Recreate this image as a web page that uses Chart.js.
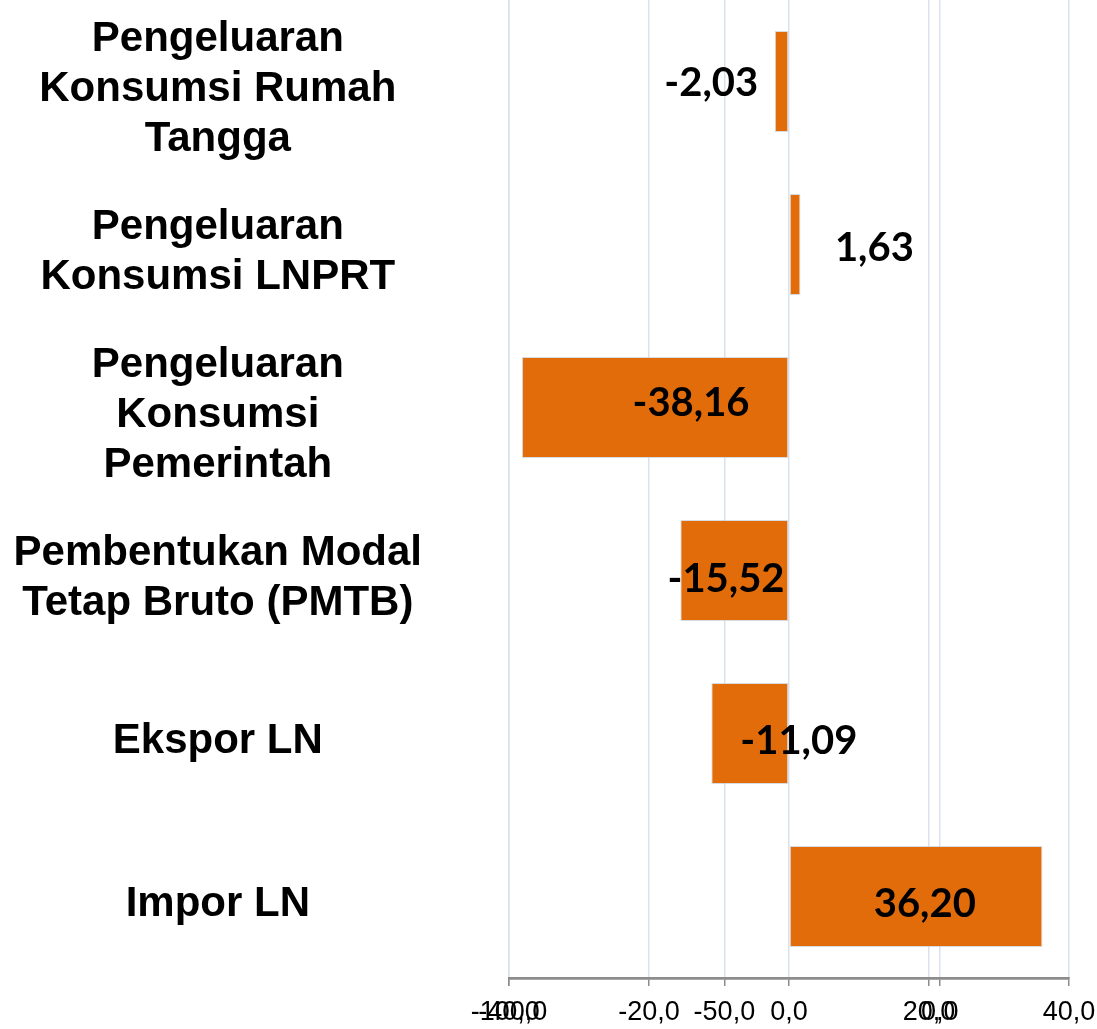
<!DOCTYPE html>
<html><head><meta charset="utf-8">
<script src="https://cdn.jsdelivr.net/npm/chart.js@4"></script>
<style>html,body{margin:0;padding:0;background:#fff}#wrap{width:1097px;height:1029px;position:relative}</style>
</head><body><div id="wrap"><canvas id="c"></canvas></div>
<script>
// ---- data ----
const categories = [
  ["Pengeluaran", "Konsumsi Rumah", "Tangga"],
  ["Pengeluaran", "Konsumsi LNPRT"],
  ["Pengeluaran", "Konsumsi", "Pemerintah"],
  ["Pembentukan Modal", "Tetap Bruto (PMTB)"],
  "Ekspor LN",
  "Impor LN"
];
const values = [-2.03, 1.63, -38.16, -15.52, -11.09, 36.20];
const mainTicks = [-40, -20, 0, 20, 40];
const secondTicks = [-100, -50, 0];

// ---- label placement config (in value-axis units / px) ----
const labelAt = [-11.1, 12.2, -14.0, -9.0, 1.4, 19.4];
const labelDy = [2, 4, -4, 9, 8, 8];

const fmt1 = v => Number(v).toFixed(1).replace('.', ',');
const fmt2 = v => Number(v).toFixed(2).replace('.', ',');

const valueLabelPlugin = {
  id: 'valueLabels',
  afterDatasetsDraw(chart) {
    const ctx = chart.ctx;
    const meta = chart.getDatasetMeta(0);
    const xs = chart.scales.x;
    ctx.save();
    ctx.font = 'bold 40px Lato, "Open Sans", sans-serif';
    ctx.fillStyle = '#000';
    ctx.textAlign = 'center';
    ctx.textBaseline = 'middle';
    meta.data.forEach((bar, i) => {
      ctx.fillText(fmt2(values[i]), xs.getPixelForValue(labelAt[i]), bar.y + labelDy[i]);
    });
    ctx.restore();
  }
};

const overlayAxisPlugin = {
  id: 'overlayAxis',
  afterLayout(chart) {
    const a = chart.scales.x, b = chart.scales.xb;
    b.top = a.top; b.bottom = a.bottom; b.height = a.height;
  }
};

const tickFont = { family: '"Liberation Sans", Arial', size: 27 };
const gridCfg = { color: '#d9e2ec', lineWidth: 1.5, tickLength: 8, tickColor: '#8c8c8c' };
const borderCfg = { color: '#8c8c8c', width: 2.5 };

new Chart(document.getElementById('c'), {
  type: 'bar',
  data: {
    labels: categories,
    datasets: [{
      data: values,
      backgroundColor: '#E36C0A',
      borderColor: 'rgba(190,196,204,0.6)',
      borderWidth: 1,
      borderSkipped: false,
      categoryPercentage: 1,
      barPercentage: 0.62,
      xAxisID: 'x'
    }]
  },
  options: {
    indexAxis: 'y',
    responsive: true,
    maintainAspectRatio: false,
    animation: false,
    layout: { padding: { left: 11, right: 28, top: 0, bottom: 0 } },
    plugins: { legend: { display: false }, tooltip: { enabled: false } },
    scales: {
      x: {
        type: 'linear', position: 'bottom', min: -40, max: 40,
        afterBuildTicks: s => { s.ticks = mainTicks.map(v => ({ value: v })); },
        afterFit: s => { s.height = 51; s.paddingLeft = 0; s.paddingRight = 0; },
        grid: gridCfg, border: borderCfg,
        ticks: { font: tickFont, color: '#000', padding: 10, maxRotation: 0, autoSkip: false, callback: fmt1 }
      },
      xb: {
        type: 'linear', position: 'bottom', min: -100, max: 30,
        afterBuildTicks: s => { s.ticks = secondTicks.map(v => ({ value: v })); },
        afterFit: s => { s.height = 0; s.paddingLeft = 0; s.paddingRight = 0; },
        grid: gridCfg, border: borderCfg,
        ticks: { font: tickFont, color: '#000', padding: 10, maxRotation: 0, autoSkip: false, callback: fmt1 }
      },
      y: {
        grid: { display: false }, border: { display: false },
        afterFit: s => { s.width = 498; s.paddingTop = 0; s.paddingBottom = 0; },
        ticks: {
          crossAlign: 'center', padding: 79, labelOffset: 8, autoSkip: false, color: '#000',
          font: { family: '"Liberation Sans", Arial', size: 42, weight: 'bold', lineHeight: 1.19 }
        }
      }
    }
  },
  plugins: [valueLabelPlugin, overlayAxisPlugin]
});
</script></body></html>
